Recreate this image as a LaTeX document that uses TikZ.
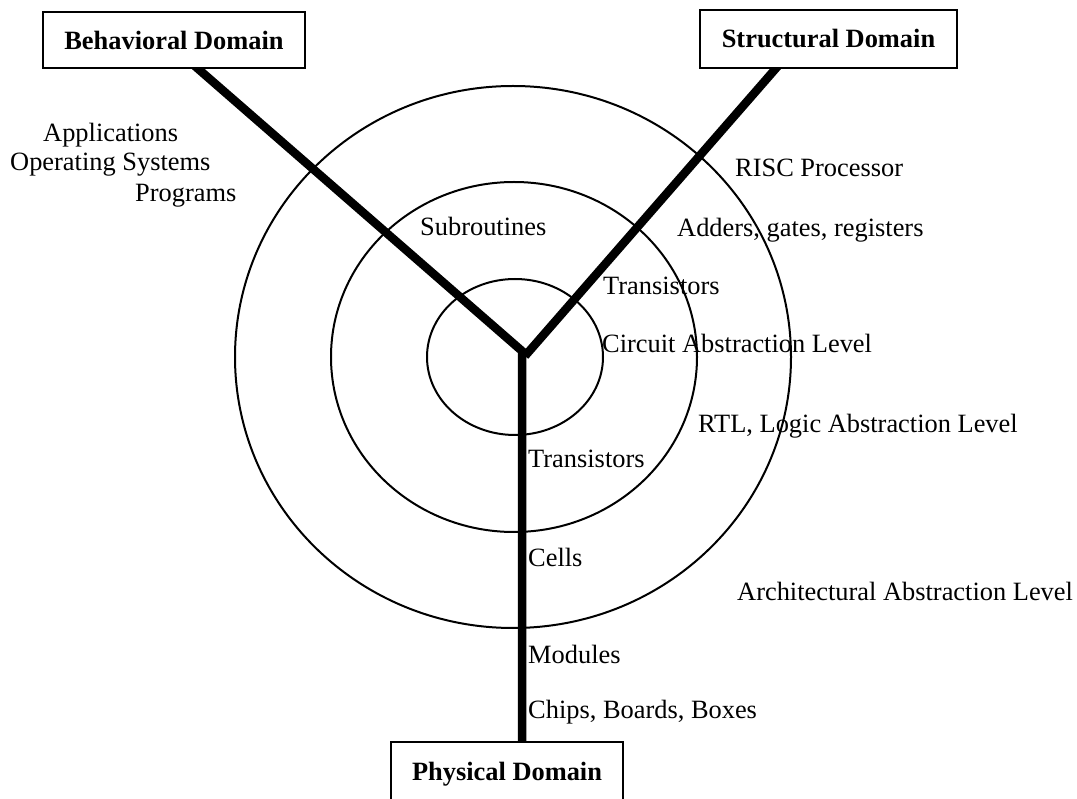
\documentclass[tikz,border=0pt]{standalone}
\usepackage{fontspec}
\setmainfont{Liberation Serif}
\usetikzlibrary{backgrounds}
\begin{document}
\begin{tikzpicture}[x=1pt,y=-1pt,
  dom/.style={draw,line width=2pt,fill=white,font=\fontsize{26.4}{30}\selectfont\bfseries,inner sep=0pt},
  lbl/.style={anchor=base west,inner sep=0pt,font=\fontsize{26.4}{30}\selectfont},
  ring/.style={line width=2pt},
  axis/.style={line width=8.5pt}]
\clip (0,0) rectangle (1077,799);
% domain boxes
\node[dom,minimum width=262pt,minimum height=56pt] (beh) at (174,40) {Behavioral Domain};
\node[dom,minimum width=257pt,minimum height=58pt] (str) at (828.5,39) {Structural Domain};
\node[dom,minimum width=232pt,minimum height=64pt] (phy) at (507,774) {Physical Domain};
\coordinate (j) at (522,351);
\coordinate (j2) at (525,356);
\begin{scope}[on background layer]
\fill[white] (0,0) rectangle (1077,799);
\draw[ring] (515,357) ellipse [x radius=88pt, y radius=78pt];
\draw[ring] (514,357) ellipse [x radius=183pt, y radius=175pt];
\draw[ring] (513,357) ellipse [x radius=278pt, y radius=271pt];
\draw[axis,line join=miter] ([xshift=-9pt]beh.center) -- (j) -- ([xshift=15pt]phy.center);
\draw[axis] (j2) -- ([xshift=-27pt]str.center);
\end{scope}
% labels
\node[lbl] (app) at (43,142) {Applications};
\node[lbl] (os) at (10,171) {Operating Systems};
\node[lbl] (prog) at (135,202) {Programs};
\node[lbl] (sub) at (420,236) {Subroutines};
\node[lbl] (risc) at (735,177) {RISC Processor};
\node[lbl] (add) at (677,237) {Adders, gates, registers};
\node[lbl] (tr1) at (603,295) {Transistors};
\node[lbl] (cal) at (602,353) {Circuit Abstraction Level};
\node[lbl] (rtl) at (698,433) {RTL, Logic Abstraction Level};
\node[lbl] (arch) at (737,600) {Architectural Abstraction Level};
\node[lbl] (tr2) at (528,468) {Transistors};
\node[lbl] (cells) at (528,566) {Cells};
\node[lbl] (mod) at (528,663) {Modules};
\node[lbl] (chips) at (528,718) {Chips, Boards, Boxes};
\end{tikzpicture}
\end{document}
